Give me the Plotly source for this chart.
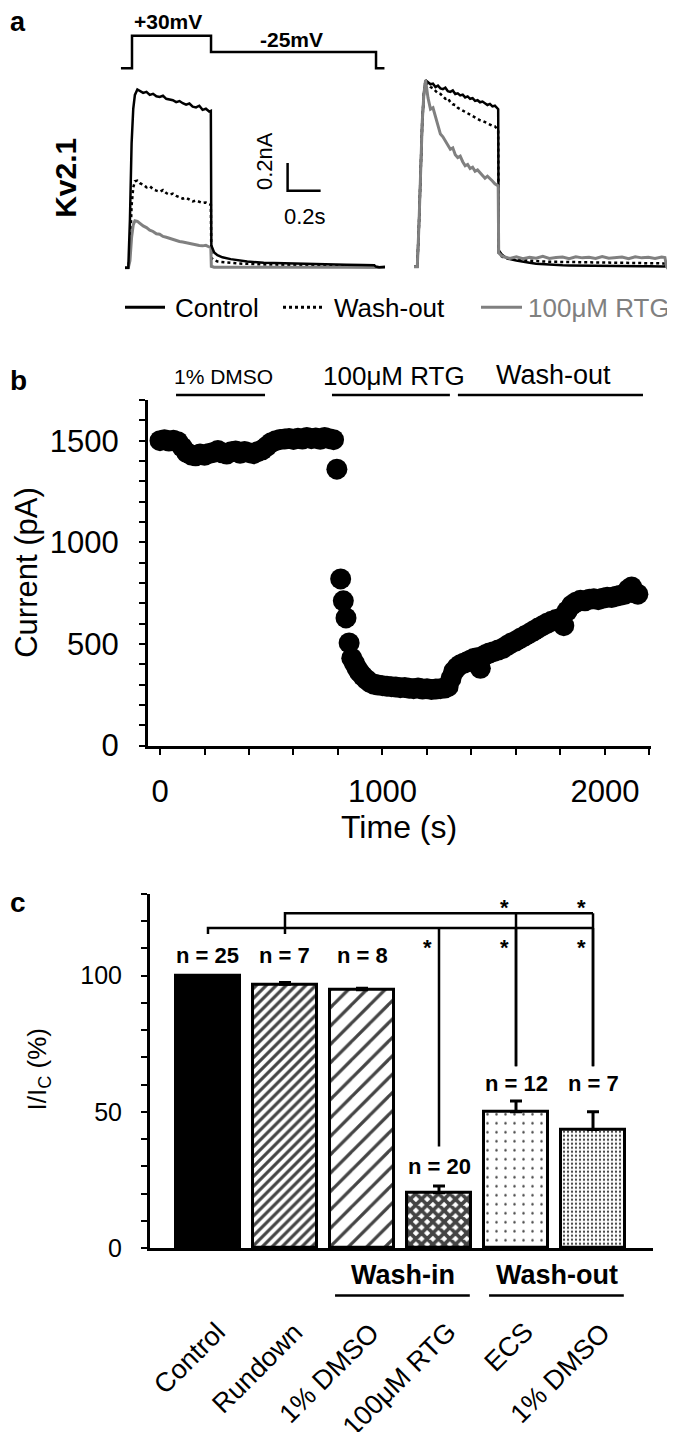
import plotly.graph_objects as go

# ------------------------------------------------------------------ DATA
# Panel a : voltage protocol (s, mV)
protocol_t = [-0.067, 0.0, 0.0, 0.479, 0.479, 1.479, 1.479, 1.53]
protocol_mv = [-80, -80, 30, 30, -25, -25, -80, -80]
protocol_labels = ["+30mV", "-25mV"]

trace_names = ["Control", "Wash-out", "100μM RTG"]

# left traces (time in s, current in nA)
t_left = [-0.04, -0.02, -0.01, 0.0, 0.01, 0.02, 0.035,
          0.05, 0.07, 0.09, 0.11, 0.13, 0.15, 0.17, 0.19, 0.21, 0.23, 0.25,
          0.27, 0.29, 0.31, 0.33, 0.35, 0.37, 0.39, 0.41, 0.43, 0.45, 0.47,
          0.48, 0.483, 0.5, 0.52, 0.55, 0.6, 0.65, 0.7, 0.8, 0.9, 1.0, 1.1,
          1.2, 1.3, 1.4, 1.47, 1.48, 1.5, 1.535]
left_control = [0.0, 0.0, 0.35, 0.9, 1.15, 1.25, 1.29,
                1.28, 1.265, 1.272, 1.25, 1.258, 1.24, 1.235, 1.244, 1.222, 1.215, 1.212,
                1.198, 1.206, 1.19, 1.18, 1.188, 1.165, 1.16, 1.172, 1.142, 1.15, 1.13,
                1.135, 0.16, 0.11, 0.09, 0.075, 0.062, 0.052, 0.045, 0.036, 0.032, 0.028, 0.026,
                0.023, 0.021, 0.02, 0.018, 0.008, 0.004, 0.006]
left_washout = [0.0, 0.0, 0.1, 0.45, 0.58, 0.625, 0.63,
                0.612, 0.6, 0.582, 0.59, 0.568, 0.558, 0.55, 0.562, 0.54, 0.528, 0.536,
                0.52, 0.508, 0.5, 0.506, 0.49, 0.48, 0.486, 0.474, 0.468, 0.472, 0.462,
                0.455, 0.07, 0.055, 0.045, 0.04, 0.035, 0.03, 0.027, 0.024, 0.022, 0.02, 0.019,
                0.018, 0.017, 0.016, 0.015, 0.006, 0.0, 0.004]
left_rtg = [0.0, 0.0, 0.05, 0.22, 0.31, 0.34, 0.335,
            0.32, 0.302, 0.29, 0.272, 0.262, 0.245, 0.242, 0.226, 0.22, 0.212, 0.205,
            0.2, 0.19, 0.186, 0.18, 0.178, 0.17, 0.165, 0.16, 0.158, 0.162, 0.15,
            0.146, 0.01, 0.004, 0.003, 0.004, 0.003, 0.004, 0.003, 0.004, 0.003, 0.004, 0.003,
            0.004, 0.003, 0.004, 0.003, 0.002, 0.0, 0.002]

# right traces (scaled, same time base)
t_right = [-0.04, -0.02, -0.01, 0.0, 0.01, 0.02, 0.03,
           0.045, 0.06, 0.075, 0.09, 0.105, 0.12, 0.135, 0.15, 0.165, 0.18,
           0.195, 0.21, 0.225, 0.24, 0.255, 0.27, 0.285, 0.3, 0.315, 0.33,
           0.345, 0.36, 0.375, 0.39, 0.405, 0.42, 0.435, 0.45, 0.465,
           0.47, 0.473, 0.49, 0.51,
           0.54, 0.58, 0.62, 0.66, 0.70, 0.74, 0.78, 0.82, 0.86, 0.90, 0.94, 0.98,
           1.02, 1.06, 1.10, 1.14, 1.18, 1.22, 1.26, 1.30, 1.34, 1.38, 1.42, 1.46,
           1.48, 1.49, 1.50, 1.52, 1.535]
right_control = [0.0, 0.0, 0.3, 0.75, 1.05, 1.25, 1.35,
                 1.335, 1.32, 1.325, 1.30, 1.31, 1.29, 1.285, 1.295, 1.27, 1.265,
                 1.275, 1.25, 1.255, 1.24, 1.245, 1.225, 1.232, 1.215, 1.22, 1.2,
                 1.205, 1.19, 1.195, 1.18, 1.17, 1.178, 1.16, 1.165, 1.15,
                 1.14, 0.12, 0.09, 0.07,
                 0.055, 0.045, 0.035, 0.028, 0.022, 0.018, 0.015, 0.012, 0.01, 0.009, 0.008, 0.007,
                 0.006, 0.006, 0.005, 0.005, 0.004, 0.004, 0.004, 0.003, 0.003, 0.003, 0.003, 0.002,
                 0.002, 0.02, -0.01, 0.0, 0.0]
right_washout = [0.0, 0.0, 0.3, 0.75, 1.05, 1.25, 1.35,
                 1.32, 1.3, 1.29, 1.27, 1.255, 1.25, 1.23, 1.215, 1.22, 1.19,
                 1.175, 1.17, 1.15, 1.14, 1.13, 1.115, 1.11, 1.095, 1.09, 1.075,
                 1.07, 1.06, 1.055, 1.045, 1.035, 1.03, 1.02, 1.015, 1.0,
                 0.99, 0.1, 0.075, 0.065,
                 0.055, 0.05, 0.046, 0.042, 0.04, 0.038, 0.036, 0.035, 0.034, 0.033, 0.032, 0.031,
                 0.03, 0.03, 0.029, 0.028, 0.028, 0.027, 0.027, 0.026, 0.026, 0.025, 0.025, 0.024,
                 0.024, 0.01, 0.0, 0.005, 0.0]
right_rtg = [0.0, 0.0, 0.3, 0.75, 1.05, 1.25, 1.35,
             1.22, 1.14, 1.15, 1.09, 1.02, 0.96, 0.94, 0.91, 0.87, 0.85,
             0.86, 0.81, 0.79, 0.8, 0.76, 0.73, 0.74, 0.71, 0.72, 0.69,
             0.7, 0.68, 0.66, 0.64, 0.655, 0.64, 0.62, 0.6, 0.59,
             0.585, 0.1, 0.08, 0.07,
             0.06, 0.072, 0.058, 0.068, 0.062, 0.075, 0.06, 0.066, 0.07, 0.058, 0.072, 0.064,
             0.068, 0.06, 0.074, 0.062, 0.066, 0.07, 0.058, 0.072, 0.064, 0.068, 0.06, 0.07,
             0.066, 0.0, -0.015, 0.03, 0.0]
scalebar_nA = 0.2
scalebar_s = 0.2

# Panel b : current vs time
b_time = [0, 20, 40, 60, 80, 100, 120, 140, 160, 180, 200, 220, 240, 260, 280, 300, 320, 340, 360, 380,
          400, 420, 440, 460, 480, 500, 520, 540, 560, 580, 600, 620, 640, 660, 680, 700, 720, 740, 760, 780,
          795, 812, 824, 836, 850, 862, 874, 886, 898, 912, 928, 945, 962, 980,
          1000, 1020, 1040, 1060, 1080, 1100, 1120, 1140, 1160, 1180, 1200, 1220, 1240, 1260, 1280, 1295,
          1308, 1320, 1335, 1350, 1365, 1380, 1395, 1410, 1425, 1440, 1452, 1465, 1480,
          1500, 1520, 1540, 1560, 1580, 1600, 1620, 1640, 1660, 1680, 1700, 1720, 1740, 1760, 1780, 1800,
          1815, 1830, 1850, 1870, 1890, 1910, 1930, 1950, 1970, 1990, 2010, 2030, 2050, 2070, 2090,
          2105, 2120, 2135, 2148]
b_current = [1500, 1505, 1498, 1502, 1495, 1468, 1442, 1430, 1426, 1434, 1428, 1437, 1442, 1452, 1440, 1434, 1446, 1449, 1438, 1447,
             1441, 1436, 1446, 1455, 1472, 1490, 1500, 1506, 1508, 1511, 1506, 1512, 1508, 1516, 1510, 1513, 1507, 1516, 1510, 1505,
             1360, 820, 712, 628, 505, 430, 405, 380, 360, 342, 325, 310, 302, 298,
             295, 292, 290, 288, 285, 286, 282, 280, 283, 278, 280, 276, 278, 280, 283, 290,
             330, 365, 385, 398, 405, 412, 420, 428, 432, 380, 440, 448, 455,
             462, 470, 478, 492, 505, 515, 528, 540, 552, 565, 578, 590, 602, 612, 620, 626,
             590, 662, 690, 705, 715, 712, 720, 722, 718, 725, 730, 728, 735, 740, 745,
             768, 780, 752, 745]
b_periods = [("1% DMSO", 72, 472), ("100μM RTG", 773, 1303), ("Wash-out", 1339, 2171)]
b_xticks = list(range(0, 2201, 200))
b_xlabels = [0, 1000, 2000]
b_yticks = list(range(0, 1701, 100))
b_ylabels = [0, 500, 1000, 1500]

# Panel c : normalised current
c_categories = ["Control", "Rundown", "1% DMSO", "100μM RTG", "ECS", "1% DMSO"]
c_values = [100, 96.8, 94.8, 20.3, 50.0, 43.5]
c_errors = [0, 0.6, 0.5, 2.5, 4.0, 6.5]
c_n = [25, 7, 8, 20, 12, 7]
c_groups = [("Wash-in", 2, 3), ("Wash-out", 4, 5)]
c_comparisons = [(0, [3, 4, 5]), (1, [4, 5])]
c_yticks = list(range(0, 131, 10))
c_ylabels = [0, 50, 100]

# ------------------------------------------------------------------ LAYOUT HELPERS
W, H = 675, 1432
FONT = "Liberation Sans, Arial, sans-serif"
GRAY = "#808080"


def PX(x):
    return x / W


def PY(y):
    return 1 - y / H


def ann(text, x, y, size, color="black", xanchor="center", yanchor="middle",
        angle=0, xref="paper", yref="paper"):
    return dict(text=text, x=x, y=y, xref=xref, yref=yref, showarrow=False,
                font=dict(size=size, color=color, family=FONT),
                xanchor=xanchor, yanchor=yanchor, textangle=angle, borderpad=0)


fig = go.Figure()
annotations = []
shapes = []

# ------------------------------------------------------------------ PANEL A
fig.add_trace(go.Scatter(x=protocol_t, y=protocol_mv, mode="lines",
                         line=dict(color="black", width=2.5), xaxis="x5", yaxis="y5",
                         hoverinfo="skip"))
styles = [dict(color="black", width=2.5, dash="solid"),
          dict(color="black", width=2.5, dash="dot"),
          dict(color=GRAY, width=3, dash="solid")]
left_series = [left_control, left_washout, left_rtg]
right_series = [right_control, right_washout, right_rtg]
for i in [1, 2, 0]:
    fig.add_trace(go.Scatter(x=t_left, y=left_series[i], mode="lines", line=styles[i],
                             xaxis="x3", yaxis="y3", name=trace_names[i]))
for i in [1, 0, 2]:
    fig.add_trace(go.Scatter(x=t_right, y=right_series[i], mode="lines", line=styles[i],
                             xaxis="x4", yaxis="y4", name=trace_names[i]))
# scale bar
sb_x0, sb_y0 = 0.945, 0.557
fig.add_trace(go.Scatter(x=[sb_x0, sb_x0, sb_x0 + scalebar_s],
                         y=[sb_y0 + scalebar_nA, sb_y0, sb_y0], mode="lines",
                         line=dict(color="black", width=2.5), xaxis="x3", yaxis="y3"))
annotations.append(ann(f"{scalebar_nA}nA", PX(256), PY(155), 22, angle=-90))
annotations.append(ann(f"{scalebar_s}s", PX(297), PY(211), 22))

annotations.append(ann("<b>a</b>", PX(10), PY(14), 27))
annotations.append(ann("<b>Kv2.1</b>", PX(58), PY(172), 30, angle=-90))
annotations.append(ann(f"<b>{protocol_labels[0]}</b>", PX(160), PY(14), 21))
annotations.append(ann(f"<b>{protocol_labels[1]}</b>", PX(283), PY(32), 21))

# legend row
leg = [(117, 157, 166), (275, 316, 325), (473, 514, 519)]
leg_colors = ["black", "black", GRAY]
for i, (x0, x1, xt) in enumerate(leg):
    shapes.append(dict(type="line", xref="paper", yref="paper", x0=PX(x0), x1=PX(x1),
                       y0=PY(303), y1=PY(303),
                       line=dict(color=styles[i]["color"], width=3, dash=styles[i]["dash"])))
    annotations.append(ann(trace_names[i], PX(xt), PY(304), 26, color=leg_colors[i],
                           xanchor="left"))

# ------------------------------------------------------------------ PANEL B
fig.add_trace(go.Scatter(x=b_time, y=b_current, mode="markers",
                         marker=dict(color="black", size=21, line=dict(width=0)),
                         xaxis="x", yaxis="y", cliponaxis=False))
for label, t0, t1 in b_periods:
    shapes.append(dict(type="line", xref="x", yref="paper", x0=t0, x1=t1,
                       y0=PY(392), y1=PY(392), line=dict(color="black", width=2.5)))
annotations.append(ann(b_periods[0][0], PX(215), PY(373), 21))
annotations.append(ann(b_periods[1][0], PX(386), PY(373), 26))
annotations.append(ann(b_periods[2][0], PX(545), PY(372), 27))
annotations.append(ann("<b>b</b>", PX(11), PY(377), 28))
annotations.append(ann("Current (pA)", PX(19), PY(572), 31, angle=-90))
annotations.append(ann("Time (s)", PX(391), PY(829), 32))

# ------------------------------------------------------------------ PANEL C
bar_colors = ["black", "white", "white", "white", "white", "white"]
fig.add_trace(go.Bar(
    x=list(range(len(c_categories))), y=c_values, width=0.83,
    xaxis="x2", yaxis="y2",
    marker=dict(color=bar_colors, line=dict(color="black", width=3),
                pattern=dict(shape=["", "/", "/", "x", ".", "."],
                             size=[8, 7, 13, 8, 9, 4],
                             solidity=[0.5, 0.45, 0.25, 0.7, 0.06, 0.25],
                             fgcolor="black", bgcolor="white", fgopacity=1)),
    error_y=dict(type="data", array=c_errors, arrayminus=[0] * len(c_errors),
                 symmetric=False, thickness=3, width=6, color="black")))

# brackets
level = {0: 117.4, 1: 122.8}
foot = 115.2
ends = {3: 37.3, 4: 66.7, 5: 66.7}
bx, by = [], []
for ref, targets in c_comparisons:
    bx += [ref, ref, max(targets), None]
    by += [foot, level[ref], level[ref], None]
    for tg in targets:
        bx += [tg, tg, None]
        by += [level[ref], ends[tg], None]
fig.add_trace(go.Scatter(x=bx, y=by, mode="lines", line=dict(color="black", width=2.5),
                         xaxis="x2", yaxis="y2", cliponaxis=False))
star_y = {0: 110.3, 1: 124.8}
for ref, targets in c_comparisons:
    for tg in targets:
        annotations.append(ann("<b>*</b>", tg - 0.15, star_y[ref], 22, xref="x2", yref="y2"))

n_y = [107.4, 107.4, 107.4, 30.0, 60.5, 60.5]
for i, n in enumerate(c_n):
    annotations.append(ann(f"<b>n = {n}</b>", i, n_y[i], 22, xref="x2", yref="y2"))

for label, g0, g1 in c_groups:
    shapes.append(dict(type="line", xref="x2", yref="paper", x0=g0 - 0.35, x1=g1 + 0.4,
                       y0=PY(1304), y1=PY(1304), line=dict(color="black", width=2.5)))
    annotations.append(ann(f"<b>{label}</b>", (g0 + g1) / 2 + 0.03, PY(1283), 27,
                           xref="x2"))

for i, cat in enumerate(c_categories):
    annotations.append(ann(cat, i + 0.32, PY(1324), 27, xanchor="right", yanchor="top",
                           angle=-45, xref="x2"))

annotations.append(ann("<b>c</b>", PX(10), PY(906), 28))
annotations.append(ann("I/I<sub>C</sub> (%)", PX(30), PY(1075), 26, angle=-90))

# ------------------------------------------------------------------ AXES
axis_common = dict(showgrid=False, zeroline=False, showline=True, linecolor="black",
                   linewidth=3, ticks="outside", ticklen=6, tickwidth=2, tickcolor="black")
minor_common = dict(ticks="outside", ticklen=6, tickwidth=2, tickcolor="black", showgrid=False)
hidden = dict(visible=False, showgrid=False, zeroline=False)

fig.update_layout(
    width=W, height=H, margin=dict(l=0, r=0, t=0, b=0),
    paper_bgcolor="white", plot_bgcolor="rgba(0,0,0,0)", showlegend=False,
    font=dict(family=FONT, color="black"),
    # panel b
    xaxis=dict(axis_common, domain=[PX(140), PX(643)], range=[-54, 2207], anchor="y",
               tickvals=b_xlabels, ticktext=[str(v) for v in b_xlabels],
               minor=dict(minor_common, tickvals=b_xticks),
               tickfont=dict(size=31), ticklabelstandoff=10),
    yaxis=dict(axis_common, domain=[PY(747), PY(397)], range=[0, 1700], anchor="x",
               tickvals=b_ylabels, ticktext=[str(v) for v in b_ylabels],
               minor=dict(minor_common, tickvals=b_yticks),
               tickfont=dict(size=31), ticklabelstandoff=14),
    # panel c
    xaxis2=dict(axis_common, domain=[PX(142), PX(645)], range=[-0.753, 5.779], anchor="y2",
                ticks="", showticklabels=False),
    yaxis2=dict(axis_common, domain=[PY(1256), PY(897)], range=[0, 130], anchor="x2",
                tickvals=c_ylabels, ticktext=[str(v) for v in c_ylabels],
                minor=dict(minor_common, tickvals=c_yticks),
                tickfont=dict(size=25), ticklabelstandoff=14),
    # panel a
    xaxis3=dict(hidden, domain=[PX(117), PX(377)], range=[-0.04, 1.535], anchor="y3"),
    yaxis3=dict(hidden, domain=[PY(270), PY(70)], range=[-0.05, 1.379], anchor="x3"),
    xaxis4=dict(hidden, domain=[PX(406), PX(666)], range=[-0.04, 1.535], anchor="y4"),
    yaxis4=dict(hidden, domain=[PY(269), PY(69)], range=[-0.05, 1.379], anchor="x4"),
    xaxis5=dict(hidden, domain=[PX(110), PX(380)], range=[-0.08485, 1.55152], anchor="y5"),
    yaxis5=dict(hidden, domain=[PY(70), PY(20)], range=[-110, 56.7], anchor="x5"),
    annotations=annotations, shapes=shapes, bargap=0,
)

fig.write_html("out.html")
